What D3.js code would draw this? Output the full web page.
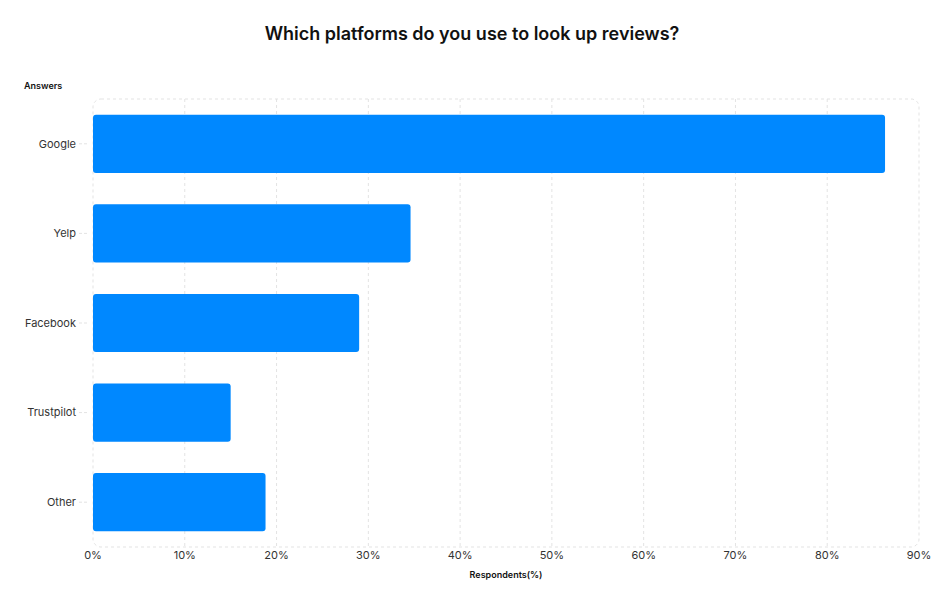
<!DOCTYPE html>
<html><head><meta charset="utf-8">
<script src="https://cdn.jsdelivr.net/npm/d3@7"></script>
<style>body{margin:0;background:#fff;font-family:Inter,sans-serif;}</style>
</head><body><div id="chart"></div>
<script>
const categories = ['Google', 'Yelp', 'Facebook', 'Trustpilot', 'Other'];
const values = [86.3, 34.6, 29.0, 15.0, 18.8];
const ticks = [0, 10, 20, 30, 40, 50, 60, 70, 80, 90];

const w = 944, h = 600;
const m = {left: 93, right: 25, top: 99, bottom: 53};

const svg = d3.select('#chart').append('svg').attr('width', w).attr('height', h);

const x = d3.scaleLinear().domain([0, 90]).range([m.left, w - m.right]);
const y = d3.scaleBand().domain(categories).range([m.top, h - m.bottom]).paddingInner(0.35).paddingOuter(0.175);

svg.append('text').attr('x', w / 2).attr('y', 40).attr('text-anchor', 'middle')
	.attr('font-size', 18).attr('font-weight', 600).attr('fill', '#111')
	.text('Which platforms do you use to look up reviews?');

// grid
svg.append('g').selectAll('line').data(ticks.slice(1, -1)).join('line')
	.attr('x1', d => x(d)).attr('x2', d => x(d))
	.attr('y1', m.top).attr('y2', h - m.bottom)
	.attr('stroke', '#e3e3e3').attr('stroke-dasharray', '3,3');
svg.append('rect').attr('x', m.left).attr('y', m.top)
	.attr('width', x(90) - m.left).attr('height', h - m.bottom - m.top)
	.attr('rx', 8).attr('fill', 'none').attr('stroke', '#e3e3e3').attr('stroke-dasharray', '3,3');

// bars
svg.append('g').selectAll('rect').data(categories).join('rect')
	.attr('x', x(0)).attr('y', d => y(d))
	.attr('width', (d, i) => x(values[i]) - x(0)).attr('height', y.bandwidth())
	.attr('rx', 3).attr('fill', '#0088ff');

// y labels
const yl = svg.append('g').selectAll('g').data(categories).join('g')
	.attr('transform', d => `translate(0,${y(d) + y.bandwidth() / 2})`);
yl.append('text').attr('x', 76).attr('dy', '0.35em').attr('text-anchor', 'end')
	.attr('font-size', 11).attr('fill', '#333').text(d => d);
yl.append('line').attr('x1', 79).attr('x2', 88).attr('stroke', '#e3e3e3').attr('stroke-dasharray', '3,2');

// x labels
svg.append('g').selectAll('text').data(ticks).join('text')
	.attr('x', d => x(d)).attr('y', 559).attr('text-anchor', 'middle')
	.attr('font-size', 11).attr('fill', '#333').text(d => d + '%');

svg.append('text').attr('x', (m.left + x(90)) / 2).attr('y', 578).attr('text-anchor', 'middle')
	.attr('font-size', 9).attr('font-weight', 600).attr('fill', '#111').text('Respondents(%)');
svg.append('text').attr('x', 24).attr('y', 89)
	.attr('font-size', 9).attr('font-weight', 600).attr('fill', '#111').text('Answers');
</script></body></html>
